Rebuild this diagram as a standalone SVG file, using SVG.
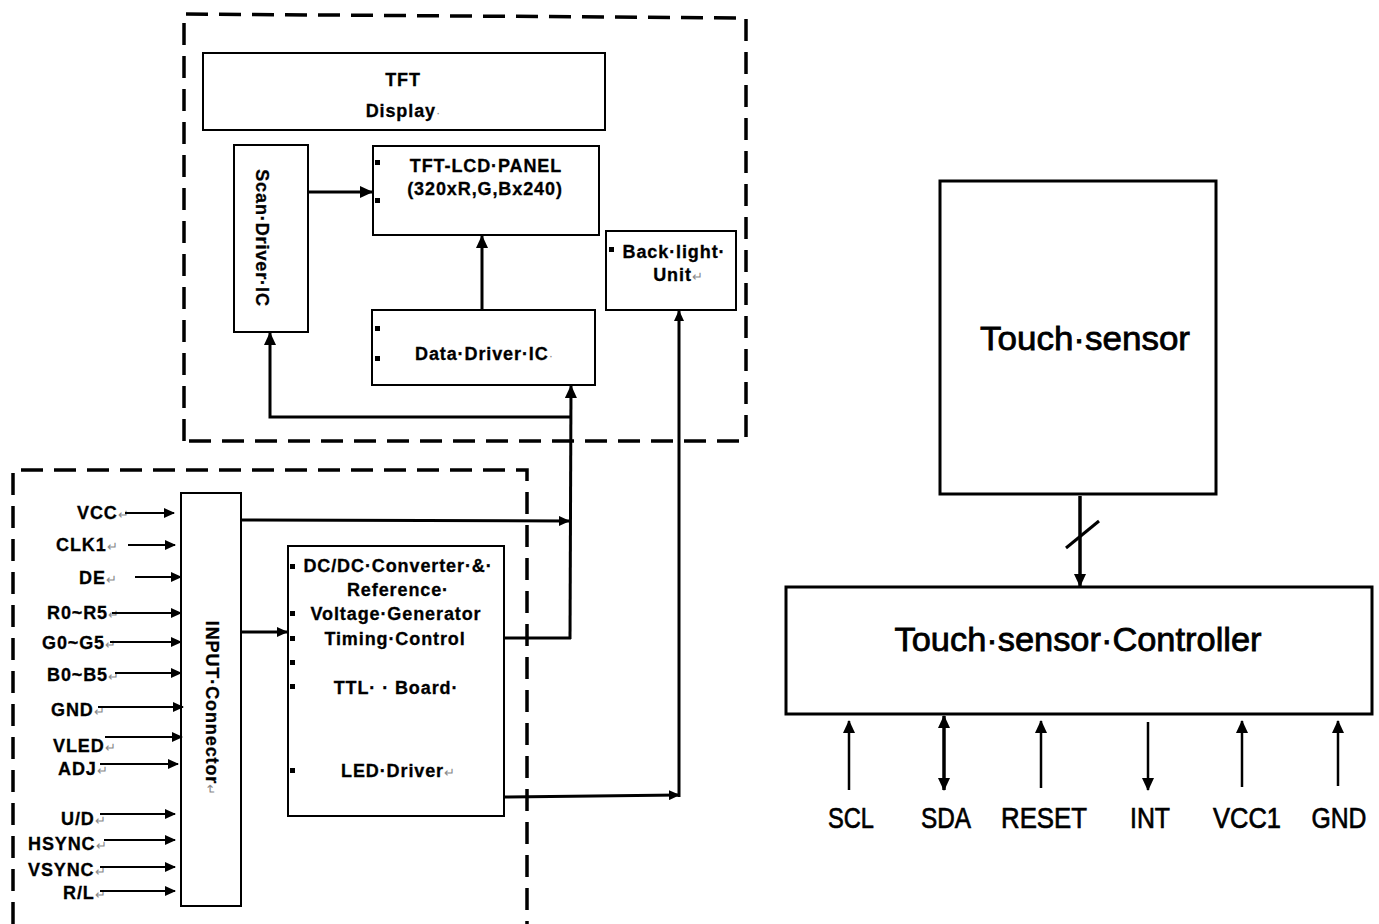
<svg xmlns="http://www.w3.org/2000/svg" width="1379" height="924" viewBox="0 0 1379 924">
<defs>
<style>
.bx{fill:#fff;stroke:#000;stroke-width:2}
.bx3{fill:#fff;stroke:#000;stroke-width:3}
.dash{fill:none;stroke:#000;stroke-width:3.5;stroke-dasharray:22 11}
.t{font-family:"Liberation Sans",Arial,sans-serif;font-weight:bold;font-size:18px;letter-spacing:0.9px;fill:#000;stroke:#000;stroke-width:0.3}
.c{text-anchor:middle}
.r{font-family:"Liberation Sans",Arial,sans-serif;font-size:34px;fill:#000;stroke:#000;stroke-width:0.8;text-anchor:middle}
.p{font-family:"Liberation Sans",Arial,sans-serif;font-size:30px;fill:#000;stroke:#000;stroke-width:0.7;text-anchor:middle}
.m{fill:#888;stroke:none;font-weight:normal;font-size:13px;letter-spacing:0}
.w{fill:none;stroke:#000;stroke-width:3}
.n{fill:none;stroke:#000;stroke-width:2}
.k{fill:#000}
</style>
<marker id="a" markerUnits="userSpaceOnUse" markerWidth="13" markerHeight="12" refX="12" refY="6" orient="auto"><path d="M0,0 L13,6 L0,12 z" fill="#000"/></marker>
<marker id="as" markerUnits="userSpaceOnUse" markerWidth="11" markerHeight="10" refX="10" refY="5" orient="auto"><path d="M0,0 L11,5 L0,10 z" fill="#000"/></marker>
<marker id="ab" markerUnits="userSpaceOnUse" markerWidth="13" markerHeight="12" refX="1" refY="6" orient="auto"><path d="M13,0 L0,6 L13,12 z" fill="#000"/></marker>
</defs>
<rect width="1379" height="924" fill="#fff"/>

<g id="frame-top"><path class="dash" d="M184,441 L184,14 L746,18 L746,441 Z"/></g>
<g id="frame-bottom"><path class="dash" d="M13,924 L13,470 L527,470 L527,924"/></g>

<g id="tft-display">
<rect class="bx" x="203" y="53" width="402" height="77"/>
<text class="t c" x="403" y="86">TFT</text>
<text class="t c" x="403" y="117">Display<tspan class="m">·</tspan></text>
</g>

<g id="scan-driver">
<rect class="bx" x="234" y="145" width="74" height="187"/>
<text class="t c" transform="translate(262,238) rotate(90)" x="0" y="6">Scan·Driver·IC</text>
</g>

<g id="tft-lcd-panel">
<rect class="bx" x="373" y="146" width="226" height="89"/>
<rect class="k" x="375" y="160" width="5" height="5"/>
<rect class="k" x="375" y="198" width="5" height="5"/>
<text class="t c" x="486" y="172">TFT-LCD·PANEL</text>
<text class="t c" x="485" y="195">(320xR,G,Bx240)</text>
</g>

<g id="data-driver">
<rect class="bx" x="372" y="310" width="223" height="75"/>
<rect class="k" x="375" y="326" width="5" height="5"/>
<rect class="k" x="375" y="356" width="5" height="5"/>
<text class="t c" x="484" y="360">Data·Driver·IC<tspan class="m">·</tspan></text>
</g>

<g id="backlight">
<rect class="bx" x="606" y="231" width="130" height="79"/>
<rect class="k" x="609" y="247" width="5" height="5"/>
<text class="t c" x="674" y="258">Back·light·</text>
<text class="t c" x="678" y="281">Unit<tspan class="m">↵</tspan></text>
</g>

<g id="input-connector">
<rect class="bx" x="181" y="493" width="60" height="413"/>
<text class="t c" transform="translate(212,708) rotate(90)" x="0" y="6">INPUT·Connector<tspan class="m">↵</tspan></text>
</g>

<g id="dcdc">
<rect class="bx" x="288" y="546" width="216" height="270"/>
<rect class="k" x="290" y="564" width="5" height="5"/>
<rect class="k" x="290" y="611" width="5" height="5"/>
<rect class="k" x="290" y="636" width="5" height="5"/>
<rect class="k" x="290" y="660" width="5" height="5"/>
<rect class="k" x="290" y="684" width="5" height="5"/>
<rect class="k" x="290" y="768" width="5" height="5"/>
<text class="t c" x="398" y="572">DC/DC·Converter·&amp;·</text>
<text class="t c" x="398" y="596">Reference·</text>
<text class="t c" x="396" y="620">Voltage·Generator</text>
<text class="t c" x="395" y="645">Timing·Control</text>
<text class="t c" x="396" y="694">TTL· · Board·</text>
<text class="t c" x="398" y="777">LED·Driver<tspan class="m">↵</tspan></text>
</g>

<g id="input-labels">
<text class="t" x="77" y="519">VCC<tspan class="m">↵</tspan></text>
<text class="t" x="56" y="551">CLK1<tspan class="m">↵</tspan></text>
<text class="t" x="79" y="584">DE<tspan class="m">↵</tspan></text>
<text class="t" x="47" y="619">R0~R5<tspan class="m">↵</tspan></text>
<text class="t" x="42" y="649">G0~G5<tspan class="m">↵</tspan></text>
<text class="t" x="47" y="681">B0~B5<tspan class="m">↵</tspan></text>
<text class="t" x="51" y="716">GND<tspan class="m">↵</tspan></text>
<text class="t" x="53" y="752">VLED<tspan class="m">↵</tspan></text>
<text class="t" x="58" y="775">ADJ<tspan class="m">↵</tspan></text>
<text class="t" x="61" y="825">U/D<tspan class="m">↵</tspan></text>
<text class="t" x="28" y="850">HSYNC<tspan class="m">↵</tspan></text>
<text class="t" x="28" y="876">VSYNC<tspan class="m">↵</tspan></text>
<text class="t" x="63" y="899">R/L<tspan class="m">↵</tspan></text>
</g>

<g id="touch-sensor">
<rect class="bx3" x="940" y="181" width="276" height="313"/>
<text class="r" x="1085" y="350" textLength="210" lengthAdjust="spacingAndGlyphs">Touch·sensor</text>
</g>

<g id="touch-controller">
<rect class="bx3" x="786" y="587" width="586" height="127"/>
<text class="r" x="1078" y="651" textLength="367" lengthAdjust="spacingAndGlyphs">Touch·sensor·Controller</text>
</g>

<g id="pin-labels">
<text class="p" x="851" y="828" textLength="46" lengthAdjust="spacingAndGlyphs">SCL</text>
<text class="p" x="946" y="828" textLength="50" lengthAdjust="spacingAndGlyphs">SDA</text>
<text class="p" x="1044" y="828" textLength="86" lengthAdjust="spacingAndGlyphs">RESET</text>
<text class="p" x="1150" y="828" textLength="40" lengthAdjust="spacingAndGlyphs">INT</text>
<text class="p" x="1247" y="828" textLength="68" lengthAdjust="spacingAndGlyphs">VCC1</text>
<text class="p" x="1339" y="828" textLength="55" lengthAdjust="spacingAndGlyphs">GND</text>
</g>

<g id="connectors">
<path class="w" d="M308,192 L372,192" marker-end="url(#a)"/>
<path class="w" d="M482,310 L482,236" marker-end="url(#a)"/>
<path class="w" d="M570,639 L571,386" marker-end="url(#a)"/>
<path class="w" d="M571,417 L270,417 L270,333" marker-end="url(#a)"/>
<path class="w" d="M241,520 L569,521" marker-end="url(#as)"/>
<path class="w" d="M504,638 L571,638"/>
<path class="w" d="M241,632 L287,632" marker-end="url(#as)"/>
<path class="w" d="M504,797 L679,795" marker-end="url(#as)"/>
<path class="w" d="M679,797 L679,311" marker-end="url(#as)"/>

<path class="n" d="M125,513 L174,513" marker-end="url(#as)"/>
<path class="n" d="M128,545 L175,545" marker-end="url(#as)"/>
<path class="n" d="M135,577 L181,577" marker-end="url(#as)"/>
<path class="n" d="M112,613 L181,613" marker-end="url(#as)"/>
<path class="n" d="M110,642 L181,642" marker-end="url(#as)"/>
<path class="n" d="M115,673 L181,673" marker-end="url(#as)"/>
<path class="n" d="M98,707 L183,707" marker-end="url(#as)"/>
<path class="n" d="M105,737 L182,737" marker-end="url(#as)"/>
<path class="n" d="M100,764 L178,764" marker-end="url(#as)"/>
<path class="n" d="M100,814 L175,814" marker-end="url(#as)"/>
<path class="n" d="M104,840 L175,840" marker-end="url(#as)"/>
<path class="n" d="M100,867 L175,867" marker-end="url(#as)"/>
<path class="n" d="M100,891 L175,891" marker-end="url(#as)"/>

<path class="w" style="stroke-width:3.5" d="M1080,496 L1080,586" marker-end="url(#a)"/>
<path class="w" d="M1066,548 L1099,521"/>
<path class="w" style="stroke-width:2.5" d="M849,790 L849,721" marker-end="url(#a)"/>
<path class="w" style="stroke-width:3.5" d="M944,790 L944,716" marker-start="url(#ab)" marker-end="url(#a)"/>
<path class="w" style="stroke-width:2.5" d="M1041,788 L1041,721" marker-end="url(#a)"/>
<path class="w" style="stroke-width:2.5" d="M1148,722 L1148,790" marker-end="url(#a)"/>
<path class="w" style="stroke-width:2.5" d="M1242,787 L1242,721" marker-end="url(#a)"/>
<path class="w" style="stroke-width:2.5" d="M1338,786 L1338,721" marker-end="url(#a)"/>
</g>
</svg>
